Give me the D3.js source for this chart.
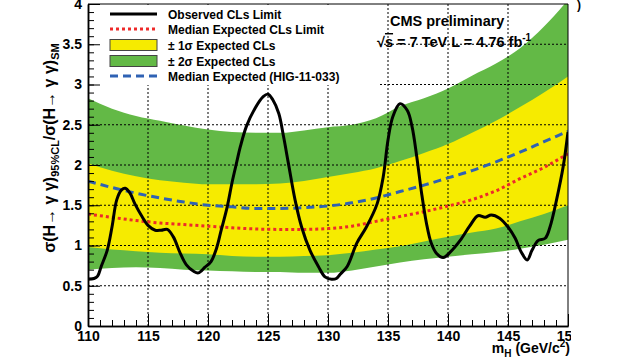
<!DOCTYPE html>
<html>
<head>
<meta charset="utf-8">
<script src="https://cdn.jsdelivr.net/npm/d3@7"></script>
<style>
  body { margin: 0; background: #fff; }
  svg { display: block; font-family: "Liberation Sans", Arial, sans-serif; font-weight: bold; }
</style>
</head>
<body>
<script>
// Mass grid for the expected bands (GeV/c^2)
var massGrid = [110,112,114,116,118,120,122,124,126,128,130,132,134,136,138,140,142,144,146,148,150];

// Expected band edges and medians
var green2sLow  = [0.70,0.72,0.73,0.72,0.70,0.69,0.68,0.67,0.67,0.66,0.66,0.69,0.74,0.79,0.83,0.86,0.89,0.92,0.96,1.01,1.07];
var yellow1sLow = [0.98,0.95,0.93,0.91,0.90,0.89,0.87,0.86,0.86,0.87,0.88,0.91,0.95,0.99,1.05,1.11,1.16,1.21,1.30,1.39,1.50];
var yellow1sHigh = [2.02,1.93,1.86,1.81,1.78,1.76,1.76,1.76,1.77,1.80,1.85,1.90,1.96,2.05,2.15,2.26,2.40,2.55,2.72,2.90,3.10];
var green2sHigh = [2.83,2.70,2.61,2.55,2.49,2.44,2.41,2.40,2.40,2.43,2.47,2.50,2.58,2.73,2.83,2.95,3.11,3.26,3.45,3.72,4.05];
var medianExpected = [1.39,1.35,1.31,1.28,1.26,1.24,1.22,1.205,1.20,1.20,1.21,1.24,1.30,1.36,1.42,1.49,1.57,1.68,1.83,1.97,2.14];
var medianHIG = [1.80,1.72,1.65,1.59,1.54,1.50,1.48,1.46,1.46,1.47,1.49,1.53,1.59,1.67,1.75,1.84,1.93,2.04,2.16,2.29,2.42];

// Observed limit
var obsMass = [110.0,110.5,110.8,111.1,111.6,112.0,112.4,112.8,113.1,113.5,113.9,114.5,115.0,115.6,116.1,116.6,117.1,117.7,118.2,118.8,119.2,119.75,120.25,120.7,121.1,121.6,122.0,122.4,122.7,123.2,123.9,124.6,125.0,125.4,125.9,126.3,126.7,127.25,127.8,128.5,129.2,129.75,130.3,130.7,131.0,131.6,132.4,133.2,134.1,134.6,135.0,135.4,136.0,136.6,137.0,137.4,137.8,138.2,138.6,139.05,139.6,140.2,141.0,141.8,142.5,143.1,143.6,144.3,145.0,145.6,146.1,146.6,147.0,147.5,148.1,148.5,149.05,149.6,150.0];
var obsLimit = [0.58,0.59,0.62,0.74,0.94,1.23,1.57,1.69,1.71,1.65,1.52,1.36,1.25,1.19,1.19,1.20,1.11,0.90,0.76,0.68,0.66,0.73,0.80,0.96,1.19,1.48,1.78,2.04,2.23,2.48,2.70,2.85,2.88,2.81,2.64,2.35,2.02,1.57,1.23,0.94,0.74,0.61,0.58,0.59,0.64,0.74,1.03,1.23,1.52,1.85,2.31,2.60,2.76,2.68,2.48,2.10,1.65,1.28,1.03,0.90,0.85,0.92,1.06,1.24,1.37,1.35,1.38,1.34,1.23,1.09,0.92,0.82,0.94,1.06,1.09,1.23,1.57,1.98,2.41];

// Axis ticks
var xTicks = [110,115,120,125,130,135,140,145,150];
var yTicks = [0,0.5,1,1.5,2,2.5,3,3.5,4];

var legendLabels = ["Observed CLs Limit", "Median Expected CLs Limit", "\u00b1 1\u03c3 Expected CLs", "\u00b1 2\u03c3 Expected CLs", "Median Expected (HIG-11-033)"];

var svgWidth = 625, svgHeight = 363;
var plot = { left: 88, right: 568, top: 4, bottom: 326 };

var colGreen = "#63b946", colYellow = "#f6eb00", colRed = "#ee2a2a", colBlue = "#2f62b4";

var svg = d3.select("body").append("svg")
  .attr("width", svgWidth)
  .attr("height", svgHeight);

svg.append("rect").attr("width", svgWidth).attr("height", svgHeight).attr("fill", "#fff");

var x = d3.scaleLinear().domain([110, 150]).range([plot.left, plot.right]);
var y = d3.scaleLinear().domain([0, 4]).range([plot.bottom, plot.top]);

svg.append("clipPath").attr("id", "plotClip")
  .append("rect")
  .attr("x", plot.left).attr("y", plot.top)
  .attr("width", plot.right - plot.left).attr("height", plot.bottom - plot.top);

var inner = svg.append("g").attr("clip-path", "url(#plotClip)");

var idx = d3.range(massGrid.length);

// bands
var bandArea = function(lo, hi) {
  return d3.area()
    .x(i => x(massGrid[i]))
    .y0(i => y(lo[i]))
    .y1(i => y(hi[i]))
    .curve(d3.curveMonotoneX)(idx);
};
inner.append("path").attr("d", bandArea(green2sLow, green2sHigh)).attr("fill", colGreen);
inner.append("path").attr("d", bandArea(yellow1sLow, yellow1sHigh)).attr("fill", colYellow);

// dotted grid
var grid = inner.append("g").attr("stroke", "#000").attr("stroke-width", 1).attr("stroke-dasharray", "2,2");
grid.selectAll("line.gx").data(xTicks.slice(1, -1)).enter().append("line")
  .attr("x1", d => x(d)).attr("x2", d => x(d))
  .attr("y1", plot.top).attr("y2", plot.bottom);
grid.selectAll("line.gy").data(yTicks.slice(1, -1)).enter().append("line")
  .attr("x1", plot.left).attr("x2", plot.right)
  .attr("y1", d => y(d)).attr("y2", d => y(d));

// expected lines
var seriesLine = function(vals) {
  return d3.line().x(i => x(massGrid[i])).y(i => y(vals[i])).curve(d3.curveMonotoneX)(idx);
};
inner.append("path").attr("d", seriesLine(medianHIG))
  .attr("fill", "none").attr("stroke", colBlue).attr("stroke-width", 3).attr("stroke-dasharray", "8,5");
inner.append("path").attr("d", seriesLine(medianExpected))
  .attr("fill", "none").attr("stroke", colRed).attr("stroke-width", 3).attr("stroke-dasharray", "3,3");

// observed
var obsLine = d3.line()
  .x(i => x(obsMass[i]))
  .y(i => y(obsLimit[i]))
  .curve(d3.curveCatmullRom.alpha(0.5));
inner.append("path").attr("d", obsLine(d3.range(obsMass.length)))
  .attr("fill", "none").attr("stroke", "#000").attr("stroke-width", 3).attr("stroke-linejoin", "round");

// legend box covers grid
svg.append("rect")
  .attr("x", plot.left + 1).attr("y", plot.top + 1)
  .attr("width", 377 - plot.left).attr("height", 84 - plot.top)
  .attr("fill", "#fff");

var legend = svg.append("g").attr("font-size", "12px");
var rowY = [14, 29, 45, 61, 76];
legend.append("line").attr("x1", 110).attr("x2", 157).attr("y1", rowY[0]).attr("y2", rowY[0])
  .attr("stroke", "#000").attr("stroke-width", 3);
legend.append("line").attr("x1", 110).attr("x2", 157).attr("y1", rowY[1]).attr("y2", rowY[1])
  .attr("stroke", colRed).attr("stroke-width", 3).attr("stroke-dasharray", "3,3");
legend.append("rect").attr("x", 110).attr("y", rowY[2] - 5.5).attr("width", 47).attr("height", 11)
  .attr("fill", colYellow).attr("stroke", "#444").attr("stroke-width", 1);
legend.append("rect").attr("x", 110).attr("y", rowY[3] - 5.5).attr("width", 47).attr("height", 11)
  .attr("fill", colGreen).attr("stroke", "#444").attr("stroke-width", 1);
legend.append("line").attr("x1", 110).attr("x2", 157).attr("y1", rowY[4]).attr("y2", rowY[4])
  .attr("stroke", colBlue).attr("stroke-width", 3).attr("stroke-dasharray", "8,5");
legend.selectAll("text").data(legendLabels).enter().append("text")
  .attr("x", 168).attr("y", (d, i) => rowY[i] + 4.5)
  .text(d => d);

// CMS label
svg.append("text").attr("x", 390).attr("y", 26).attr("font-size", "14.5px").text("CMS preliminary");
var lumi = svg.append("text").attr("x", 377).attr("y", 47).attr("font-size", "14.5px");
lumi.append("tspan").text("\u221a");
lumi.append("tspan").attr("text-decoration", "overline").text("s");
lumi.append("tspan").text(" = 7 TeV L = 4.76 fb");
lumi.append("tspan").attr("dy", -6).attr("font-size", "10px").text("-1");

// axes
var leftAxis = d3.axisLeft(y).tickValues(yTicks).tickSize(-12).tickSizeOuter(0).tickPadding(6)
  .tickFormat(d3.format("~g"));
var leftMinor = d3.axisLeft(y).tickValues(d3.range(0, 4.001, 0.1)).tickSize(-6).tickSizeOuter(0).tickFormat("");
var bottomAxis = d3.axisBottom(x).tickValues(xTicks).tickSize(-12).tickSizeOuter(0).tickPadding(5)
  .tickFormat(d3.format("d"));
var bottomMinor = d3.axisBottom(x).tickValues(d3.range(110, 150.001, 1)).tickSize(-6).tickSizeOuter(0).tickFormat("");

svg.append("g").attr("transform", `translate(${plot.left},0)`).call(leftMinor);
svg.append("g").attr("transform", `translate(0,${plot.bottom})`).call(bottomMinor);
var yAx = svg.append("g").attr("transform", `translate(${plot.left},0)`).call(leftAxis);

// the source image is cut just right of the last x label
svg.append("clipPath").attr("id", "labelClip")
  .append("rect").attr("x", 0).attr("y", -20).attr("width", 571).attr("height", 60);
var xAx = svg.append("g").attr("transform", `translate(0,${plot.bottom})`)
  .attr("clip-path", "url(#labelClip)")
  .call(bottomAxis);

svg.selectAll(".tick text")
  .attr("font-size", "14px").attr("font-weight", "bold")
  .attr("font-family", "'Liberation Sans', Arial, sans-serif").attr("fill", "#000");
svg.selectAll(".domain").attr("stroke", "#000").attr("stroke-width", 1.5);
svg.selectAll(".tick line").attr("stroke", "#000").attr("stroke-width", 1);

// frame top/right
svg.append("path")
  .attr("d", `M${plot.left},${plot.top}H${plot.right}V${plot.bottom}`)
  .attr("fill", "none").attr("stroke", "#000").attr("stroke-width", 1);

// x title
var xt = svg.append("text").attr("x", 570).attr("y", 353).attr("text-anchor", "end").attr("font-size", "14px");
xt.append("tspan").text("m");
xt.append("tspan").attr("dy", 4).attr("font-size", "10px").text("H");
xt.append("tspan").attr("dy", -4).text(" (GeV/c");
xt.append("tspan").attr("dy", -6).attr("font-size", "10px").text("2");
xt.append("tspan").attr("dy", 6).text(")");

// y title
var yt = svg.append("text").attr("transform", "translate(55,148) rotate(-90)")
  .attr("text-anchor", "middle").attr("font-size", "16px");
yt.append("tspan").text("\u03c3(H\u2192 \u03b3 \u03b3)");
yt.append("tspan").attr("dy", 4).attr("font-size", "11px").text("95%CL");
yt.append("tspan").attr("dy", -4).text("/\u03c3(H\u2192 \u03b3 \u03b3)");
yt.append("tspan").attr("dy", 4).attr("font-size", "11px").text("SM");

// stray glyph at the top right of the source image
svg.append("text").attr("x", 577).attr("y", 9).attr("font-size", "12px").text(")");
</script>
</body>
</html>
